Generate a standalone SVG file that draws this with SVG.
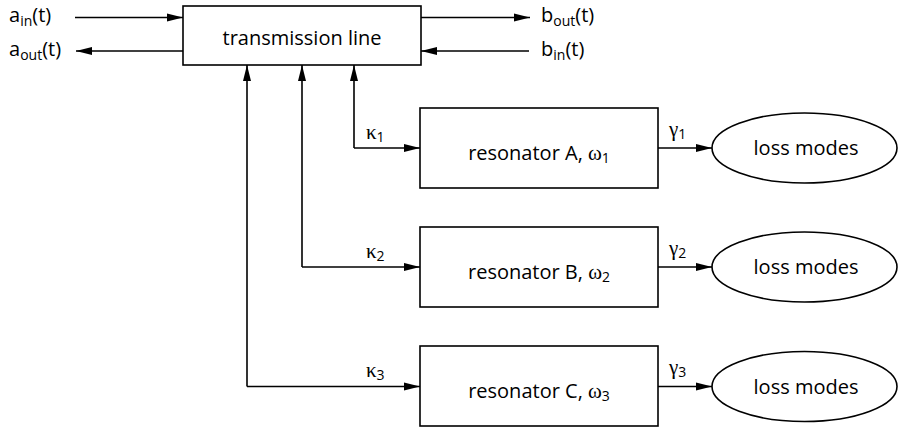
<svg xmlns="http://www.w3.org/2000/svg" width="899" height="432" viewBox="0 0 899 432">
<style>
.box{fill:#fff;stroke:#000;stroke-width:1.6}
.ln{fill:none;stroke:#000;stroke-width:1.6}
.t{font-family:"Open Sans","Liberation Sans",sans-serif;font-size:20px;fill:#000}
.s{font-size:14px}
.g{font-family:"Liberation Serif","DejaVu Serif",serif;font-size:21px}
</style>
<defs>
<marker id="ah" markerUnits="userSpaceOnUse" markerWidth="16" markerHeight="10" refX="16" refY="5" orient="auto">
<path d="M0,1 L16,5 L0,9 z" fill="#000"/>
</marker>
</defs>
<rect width="899" height="432" fill="#fff"/>
<g id="connectors">
<line class="ln" x1="75" y1="17.5" x2="183" y2="17.5" marker-end="url(#ah)"/>
<line class="ln" x1="183" y1="51" x2="76" y2="51" marker-end="url(#ah)"/>
<line class="ln" x1="421" y1="17.5" x2="530" y2="17.5" marker-end="url(#ah)"/>
<line class="ln" x1="529" y1="51" x2="421" y2="51" marker-end="url(#ah)"/>
<path class="ln" d="M354,148 V65" marker-end="url(#ah)"/>
<path class="ln" d="M354,148 H420" marker-end="url(#ah)"/>
<path class="ln" d="M302,267 V65" marker-end="url(#ah)"/>
<path class="ln" d="M302,267 H420" marker-end="url(#ah)"/>
<path class="ln" d="M247,386.5 V65" marker-end="url(#ah)"/>
<path class="ln" d="M247,386.5 H420" marker-end="url(#ah)"/>
<line class="ln" x1="658" y1="148" x2="712" y2="148" marker-end="url(#ah)"/>
<line class="ln" x1="658" y1="267" x2="712" y2="267" marker-end="url(#ah)"/>
<line class="ln" x1="658" y1="386.5" x2="712" y2="386.5" marker-end="url(#ah)"/>
<text class="t" x="366" y="139"><tspan class="g">κ</tspan><tspan class="s" dy="3">1</tspan></text>
<text class="t" x="366" y="258"><tspan class="g">κ</tspan><tspan class="s" dy="3">2</tspan></text>
<text class="t" x="366" y="377"><tspan class="g">κ</tspan><tspan class="s" dy="3">3</tspan></text>
<text class="t" x="669" y="136"><tspan class="g">γ</tspan><tspan class="s" dy="3">1</tspan></text>
<text class="t" x="669" y="255"><tspan class="g">γ</tspan><tspan class="s" dy="3">2</tspan></text>
<text class="t" x="669" y="374"><tspan class="g">γ</tspan><tspan class="s" dy="3">3</tspan></text>
</g>
<g id="labels">
<text class="t" x="9" y="22">a<tspan class="s" dy="4">in</tspan><tspan dy="-4">(t)</tspan></text>
<text class="t" x="9" y="56">a<tspan class="s" dy="4">out</tspan><tspan dy="-4">(t)</tspan></text>
<text class="t" x="541" y="22">b<tspan class="s" dy="4">out</tspan><tspan dy="-4">(t)</tspan></text>
<text class="t" x="541" y="56">b<tspan class="s" dy="4">in</tspan><tspan dy="-4">(t)</tspan></text>
</g>
<g id="transmission-line">
<rect class="box" x="183" y="6" width="238" height="59"/>
<text class="t" x="302" y="45" text-anchor="middle">transmission line</text>
</g>
<g id="resonator-a">
<rect class="box" x="420" y="108" width="238" height="80"/>
<text class="t" x="539" y="160" text-anchor="middle">resonator A, <tspan class="g">ω</tspan><tspan class="s" dy="3">1</tspan></text>
</g>
<g id="resonator-b">
<rect class="box" x="420" y="227" width="238" height="80"/>
<text class="t" x="539" y="279" text-anchor="middle">resonator B, <tspan class="g">ω</tspan><tspan class="s" dy="3">2</tspan></text>
</g>
<g id="resonator-c">
<rect class="box" x="420" y="346" width="238" height="80"/>
<text class="t" x="539" y="398" text-anchor="middle">resonator C, <tspan class="g">ω</tspan><tspan class="s" dy="3">3</tspan></text>
</g>
<g id="loss-a">
<ellipse class="box" cx="804.5" cy="148" rx="92.5" ry="35"/>
<text class="t" x="806" y="155" text-anchor="middle">loss modes</text>
</g>
<g id="loss-b">
<ellipse class="box" cx="804.5" cy="267" rx="92.5" ry="35"/>
<text class="t" x="806" y="274" text-anchor="middle">loss modes</text>
</g>
<g id="loss-c">
<ellipse class="box" cx="804.5" cy="386.5" rx="92.5" ry="35"/>
<text class="t" x="806" y="393.5" text-anchor="middle">loss modes</text>
</g>
</svg>
